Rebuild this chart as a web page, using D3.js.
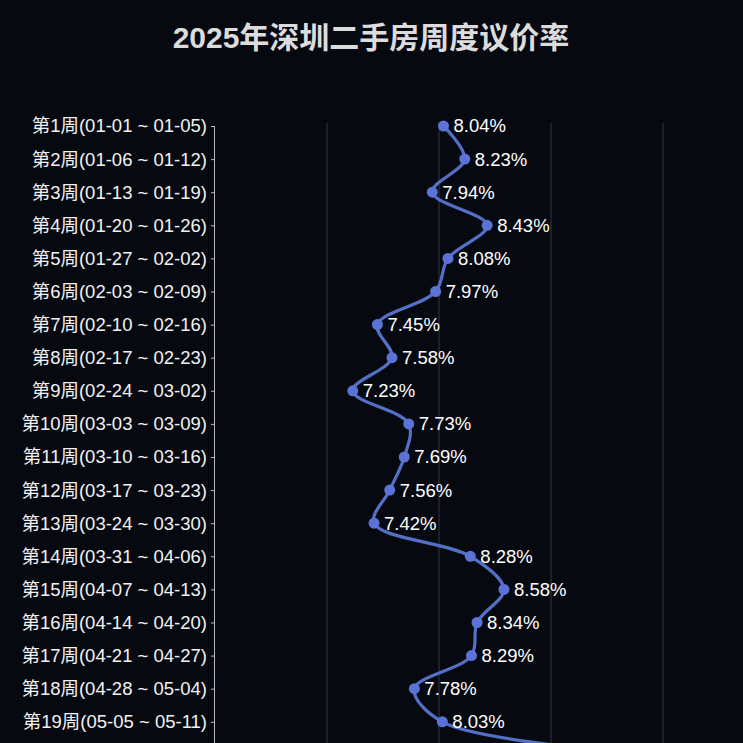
<!DOCTYPE html>
<html>
<head>
<meta charset="utf-8">
<script src="https://cdn.jsdelivr.net/npm/d3@7"></script>
<style>
  html, body { margin: 0; padding: 0; background: #070911; overflow: hidden; }
</style>
</head>
<body>
<div id="chart"></div>
<script>
const weeks = ["第1周(01-01 ~ 01-05)", "第2周(01-06 ~ 01-12)", "第3周(01-13 ~ 01-19)",
    "第4周(01-20 ~ 01-26)", "第5周(01-27 ~ 02-02)", "第6周(02-03 ~ 02-09)",
    "第7周(02-10 ~ 02-16)", "第8周(02-17 ~ 02-23)", "第9周(02-24 ~ 03-02)",
    "第10周(03-03 ~ 03-09)", "第11周(03-10 ~ 03-16)", "第12周(03-17 ~ 03-23)",
    "第13周(03-24 ~ 03-30)", "第14周(03-31 ~ 04-06)", "第15周(04-07 ~ 04-13)",
    "第16周(04-14 ~ 04-20)", "第17周(04-21 ~ 04-27)", "第18周(04-28 ~ 05-04)",
    "第19周(05-05 ~ 05-11)", "第20周(05-12 ~ 05-18)"];
const rates = [8.04, 8.23, 7.94, 8.43, 8.08, 7.97, 7.45, 7.58, 7.23, 7.73,
    7.69, 7.56, 7.42, 8.28, 8.58, 8.34, 8.29, 7.78, 8.03, 9.95];
const xTicks = [6, 7, 8, 9, 10];

function main(){
    let width = 743;
    let height = 900;
    let font = "'Liberation Sans', 'Noto Sans CJK SC', sans-serif";

    let svg = d3.select("#chart").append("svg")
        .attr("width", width)
        .attr("height", height)
        .style("display", "block");

    svg.append("rect").attr("width", width).attr("height", height).attr("fill", "#070911");

    svg.append("text")
        .attr("x", 371)
        .attr("y", 48)
        .attr("text-anchor", "middle")
        .attr("fill", "#dcdcdc")
        .attr("font-family", font)
        .attr("font-weight", "bold")
        .attr("font-size", 30)
        .text("2025年深圳二手房周度议价率");

    let x = d3.scaleLinear().domain([6, 10]).range([215, 663]);
    let y = d3.scalePoint().domain(weeks).range([126, 126 + 33.1 * (weeks.length - 1)]);

    // vertical grid lines
    svg.append("g").selectAll("line")
        .data(xTicks.slice(1))
        .enter().append("line")
        .attr("x1", d => x(d)).attr("x2", d => x(d))
        .attr("y1", y.range()[0] - 3).attr("y2", height)
        .attr("stroke", "#343845")
        .attr("stroke-width", 1);

    let yAxis = svg.append("g")
        .attr("transform", "translate(215,0)")
        .call(d3.axisLeft(y).tickSize(4).tickPadding(4));
    yAxis.select(".domain").attr("stroke", "#b8b8b8").attr("d", "M-0.5," + y.range()[0] + "V" + height);
    yAxis.selectAll(".tick line").attr("stroke", "#b8b8b8");
    yAxis.selectAll(".tick text")
        .attr("fill", "#f2f2f2")
        .attr("font-family", font)
        .attr("font-size", 18.5);

    let pts = weeks.map((w, i) => [x(rates[i]), y(w)]);

    svg.append("path")
        .datum(pts)
        .attr("d", d3.line().curve(d3.curveCatmullRom.alpha(0.5)))
        .attr("fill", "none")
        .attr("stroke", "#5470c6")
        .attr("stroke-width", 3.2);

    svg.append("g").selectAll("circle")
        .data(pts)
        .enter().append("circle")
        .attr("cx", d => d[0]).attr("cy", d => d[1])
        .attr("r", 5.5)
        .attr("fill", "#5b73d6");

    svg.append("g").selectAll("text")
        .data(rates)
        .enter().append("text")
        .attr("x", (d, i) => pts[i][0] + 10)
        .attr("y", (d, i) => pts[i][1])
        .attr("dy", "0.35em")
        .attr("fill", "#ffffff")
        .attr("font-family", font)
        .attr("font-size", 18.5)
        .text(d => d.toFixed(2) + "%");
}

main();
</script>
</body>
</html>
